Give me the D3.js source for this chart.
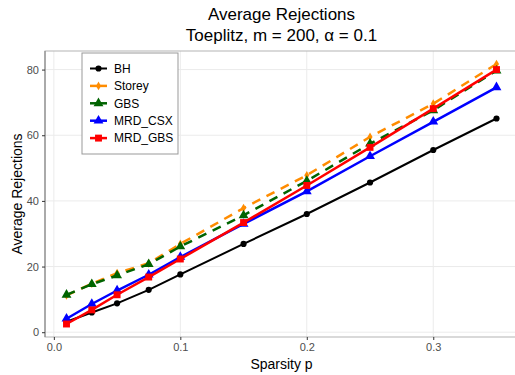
<!DOCTYPE html>
<html><head><meta charset="utf-8">
<script src="https://cdn.jsdelivr.net/npm/d3@7"></script>
<style>body{margin:0;background:#fff}svg{display:block;font-family:"Liberation Sans",Arial,sans-serif}</style>
</head><body><svg id="c" width="515" height="375"></svg>
<script>
const sparsity = [0.01, 0.03, 0.05, 0.075, 0.1, 0.15, 0.2, 0.25, 0.3, 0.35];
const BH      = [3.2, 6.0, 8.8, 12.9, 17.6, 26.9, 36.0, 45.6, 55.5, 65.1];
const Storey  = [11.2, 14.8, 18.0, 21.0, 26.9, 37.8, 47.8, 59.5, 69.6, 81.7];
const GBS     = [11.4, 14.6, 17.3, 20.7, 26.1, 35.6, 46.1, 57.4, 67.6, 79.7];
const MRD_CSX = [4.1, 8.6, 12.7, 17.5, 22.9, 33.0, 42.9, 53.6, 64.1, 74.6];
const MRD_GBS = [2.5, 6.8, 11.4, 16.8, 22.3, 33.4, 44.7, 56.3, 68.1, 80.0];
const seriesNames = ["BH", "Storey", "GBS", "MRD_CSX", "MRD_GBS"];
const xTicks = [0.0, 0.1, 0.2, 0.3];
const yTicks = [0, 20, 40, 60, 80];
const titleLines = ["Average Rejections", "Toeplitz, m = 200, \u03b1 = 0.1"];

const series = [
  {name:"BH", values:BH, color:"#000000", dash:null, shape:"circle", w:2},
  {name:"Storey", values:Storey, color:"#FF8C00", dash:"9,7", shape:"diamond", w:2.5},
  {name:"GBS", values:GBS, color:"#006400", dash:"9,7", shape:"triangle", w:2.5},
  {name:"MRD_CSX", values:MRD_CSX, color:"#0000FF", dash:null, shape:"triangle", w:2.5},
  {name:"MRD_GBS", values:MRD_GBS, color:"#FF0000", dash:null, shape:"square", w:2.5}
];

const svg = d3.select("#c");
const L = 45, R = 518, T = 51, B = 337;
function expand(ext){const r=ext[1]-ext[0];return [ext[0]-0.05*r, ext[1]+0.05*r];}
const x = d3.scaleLinear().domain(expand(d3.extent(sparsity))).range([L, R]);
const allY = [].concat(BH, Storey, GBS, MRD_CSX, MRD_GBS);
const y = d3.scaleLinear().domain(expand(d3.extent(allY))).range([B, T]);

// panel
svg.append("rect").attr("x",L).attr("y",T).attr("width",R-L).attr("height",B-T).attr("fill","#fff");
// grid
svg.append("g").selectAll("line").data(xTicks).join("line")
  .attr("x1",d=>x(d)).attr("x2",d=>x(d)).attr("y1",T).attr("y2",B)
  .attr("stroke","#ebebeb").attr("stroke-width",1);
svg.append("g").selectAll("line").data(yTicks).join("line")
  .attr("y1",d=>y(d)).attr("y2",d=>y(d)).attr("x1",L).attr("x2",R)
  .attr("stroke","#ebebeb").attr("stroke-width",1);
// border
svg.append("rect").attr("x",L).attr("y",T).attr("width",R-L).attr("height",B-T)
  .attr("fill","none").attr("stroke","#b3b3b3").attr("stroke-width",1);
svg.append("line").attr("x1",L).attr("x2",L).attr("y1",T).attr("y2",B).attr("stroke","#8a8a8a").attr("stroke-width",1.2);

// axes
const xAxis = svg.append("g").attr("transform",`translate(0,${B})`)
  .call(d3.axisBottom(x).tickValues(xTicks).tickFormat(d3.format(".1f")).tickSize(3).tickPadding(3));
const yAxis = svg.append("g").attr("transform",`translate(${L},0)`)
  .call(d3.axisLeft(y).tickValues(yTicks).tickSize(3).tickPadding(3));
[xAxis,yAxis].forEach(a=>{
  a.select(".domain").remove();
  a.selectAll(".tick line").attr("stroke","#333").attr("stroke-width",1);
  a.selectAll(".tick text").attr("fill","#4d4d4d").style("font-size","11px").style("font-family","'Liberation Sans',Arial,sans-serif");
});

// lines
const line = d3.line().x((d,i)=>x(sparsity[i])).y(d=>y(d));
const symMap = {circle:d3.symbolCircle, diamond:d3.symbolDiamond, triangle:d3.symbolTriangle, square:d3.symbolSquare};
const sizeMap = {circle:30, diamond:22, triangle:42, square:48};
series.forEach(s=>{
  const g = svg.append("g");
  g.append("path").datum(s.values).attr("d",line).attr("fill","none")
    .attr("stroke",s.color).attr("stroke-width",s.w).attr("stroke-dasharray",s.dash);
  g.selectAll("path.pt").data(s.values).join("path").attr("class","pt")
    .attr("transform",(d,i)=>`translate(${x(sparsity[i])},${y(d)})`)
    .attr("d",d3.symbol().type(symMap[s.shape]).size(sizeMap[s.shape]))
    .attr("fill",s.color);
});

// titles
svg.append("text").attr("x",281.5).attr("y",20).attr("text-anchor","middle").style("font-size","17px").attr("fill","#000").text(titleLines[0]);
svg.append("text").attr("x",281.5).attr("y",41).attr("text-anchor","middle").style("font-size","17px").attr("fill","#000").text(titleLines[1]);
svg.append("text").attr("x",281.5).attr("y",369).attr("text-anchor","middle").style("font-size","14px").attr("fill","#000").text("Sparsity p");
svg.append("text").attr("transform",`translate(22,${(T+B)/2}) rotate(-90)`).attr("text-anchor","middle").style("font-size","14px").attr("fill","#000").text("Average Rejections");

// legend
const lg = svg.append("g");
lg.append("rect").attr("x",82).attr("y",53).attr("width",96).attr("height",101)
  .attr("fill","#fff").attr("stroke","#999").attr("stroke-width",1);
series.forEach((s,i)=>{
  const yy = 68.5 + i*17.4;
  lg.append("line").attr("x1",90).attr("x2",107).attr("y1",yy).attr("y2",yy).attr("stroke",s.color).attr("stroke-width",s.w);
  lg.append("path").attr("transform",`translate(98.5,${yy})`).attr("d",d3.symbol().type(symMap[s.shape]).size(sizeMap[s.shape])).attr("fill",s.color);
  lg.append("text").attr("x",114).attr("y",yy+4.2).style("font-size","12px").attr("fill","#000").text(seriesNames[i]);
});
</script></body></html>
